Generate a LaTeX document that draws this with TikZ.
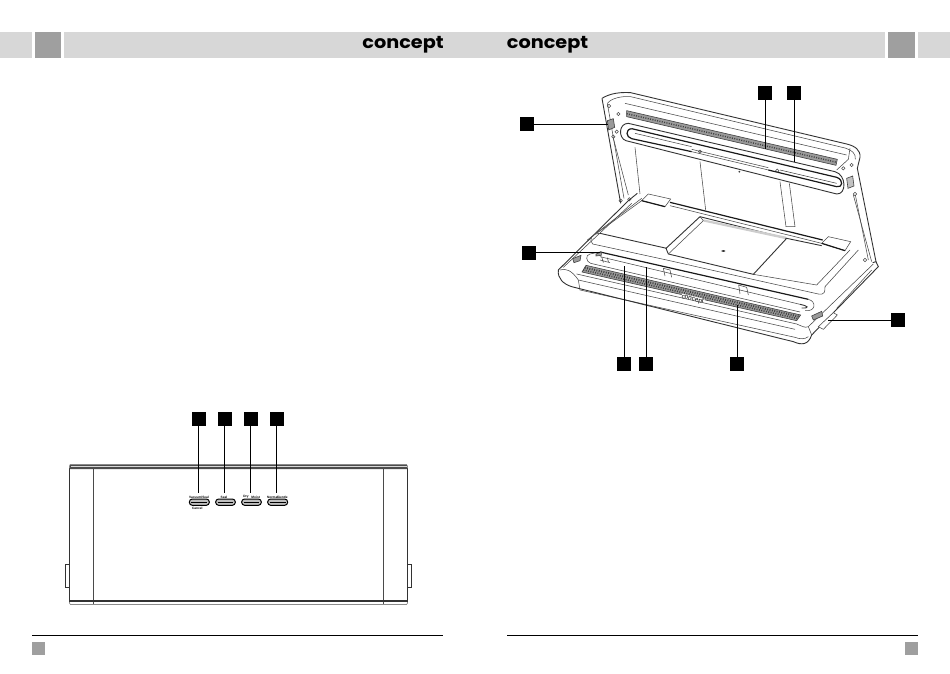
\documentclass[tikz,border=0pt]{standalone}
\usepackage{fontspec}
\setmainfont{Liberation Sans}
\newfontfamily\logofont{Poppins}
\definecolor{bannerg}{HTML}{D7D7D7}
\definecolor{bannerd}{HTML}{9F9F9F}
\definecolor{lineg}{HTML}{4A4A4A}
\definecolor{hatchg}{HTML}{9A9A9A}
\tikzset{
  banner/.style={fill=bannerg,draw=none},
  bannerdark/.style={fill=bannerd,draw=none},
  callout/.style={fill=black,draw=none,minimum width=14pt,minimum height=14pt,inner sep=0pt,outer sep=0pt},
  leader/.style={draw=black,line width=1pt},
  rulerline/.style={draw=black,line width=.8pt},
  logo/.style={inner sep=0pt,font=\logofont\bfseries\fontsize{17.5}{17.5}\selectfont,xscale=1.1},
  thin line/.style={draw=lineg,line width=.55pt},
  med line/.style={draw=black!80,line width=.9pt},
  heavy/.style={draw=black!90,line width=1.2pt},
  hatchband/.style={fill=hatchg,draw=black!75,line width=.6pt},
  texture/.style={draw=black!75,line width=1.4pt,dash pattern=on 1pt off 1.4pt},
  btnlabel/.style={inner sep=0pt,font=\bfseries\fontsize{3.2}{3.2}\selectfont},
  viewA/.style={shift={(500,70)},x=.33333pt,y=-.33333pt},
  viewB/.style={shift={(50,400)},x=.33333pt,y=-.33333pt},
  btn/.style={draw=black,line width=1pt,rounded corners=3pt,fill=black!25},
}
\begin{document}
\begin{tikzpicture}[x=1pt,y=-1pt]
\useasboundingbox (0,0) rectangle (950,674);
\fill[white] (0,0) rectangle (950,674);
% header
\fill[banner] (0,32) rectangle (32,58);
\fill[bannerdark] (35,32) rectangle (61,58);
\fill[banner] (64,32) rectangle (885,58);
\fill[bannerdark] (888,32) rectangle (915,58);
\fill[banner] (918,32) rectangle (950,58);
\node[logo] (logoL) at (403,44.5) {concept};
\node[logo] (logoR) at (547.5,44.5) {concept};
% footer
\draw[rulerline] (32,635) -- (443,635);
\draw[rulerline] (507,635) -- (918,635);
\fill[bannerd] (32,642) rectangle (45,655);
\fill[bannerd] (905,642) rectangle (918,655);

% ===== open appliance =====
\begin{scope}[viewA]
 % lid outer
 \draw[med line] (306,85) .. controls (330,70) and (360,66) .. (392,68) -- (1040,222) .. controls (1065,228) and (1082,240) .. (1080,262) -- (1072,295) -- (1128,575);
 \draw[med line] (306,85) -- (362,400);
 \draw[thin line] (322,100) .. controls (335,84) and (365,78) .. (392,80) -- (1035,234) .. controls (1055,240) and (1068,250) .. (1066,268);
 \draw[thin line] (322,100) -- (372,385);
 \draw[thin line] (375,100) -- (1040,255);
 \draw[thin line] (1050,235) -- (1045,268);
 \draw[thin line] (340,205) -- (385,375);
 \draw[thin line] (1060,375) -- (1115,575);
 \draw[thin line] (1066,375) -- (1105,570);
 \draw[thin line] (1045,268) -- (1010,300);
 % lid band
 \draw[hatchband] (380,122) -- (1012,268) -- (1008,286) -- (380,140) -- cycle;
 \draw[texture] (380,131) -- (1010,277);
 % lid gasket
 \draw[med line] (385,160) -- (1005,305) .. controls (1040,315) and (1040,374) .. (1010,372) -- (378,212) .. controls (355,205) and (355,160) .. (385,160);
 \draw[heavy] (395,176) -- (1010,322) .. controls (1032,330) and (1028,354) .. (1010,350) -- (805,300);
 \draw[heavy] (395,176) .. controls (375,178) and (378,202) .. (395,206) -- (575,245);
 \draw[thin line] (575,245) -- (805,300);
 \draw[thin line] (575,238) -- (805,293);
 \draw[thin line] (405,190) -- (575,230);
 \draw[thin line] (840,300) -- (1010,340);
 % small lid details
 \foreach \p in {(355,132),(340,200),(327,108),(350,185),(1055,285),(1030,295),(1065,372),(600,245),(832,302),(388,388),(362,392),(1095,570)}
   \draw[thin line] \p circle (5);
 \fill[black!75] (718,305) circle (3);
 \draw[hatchband] (322,152) -- (340,146) -- (344,172) -- (326,180) -- cycle;
 \draw[hatchband,fill=hatchg!60] (1040,325) -- (1058,318) -- (1062,348) -- (1044,355) -- cycle;
 % back panel
 \draw[thin line] (405,232) -- (420,372);
 \draw[thin line] (600,275) -- (617,420);
 \draw[thin line] (840,335) -- (858,470) -- (885,470) -- (868,340);
 % base hinge tabs
 \draw[thin line,fill=white] (425,392) -- (445,372) -- (512,387) -- (495,410) -- cycle;
 \draw[thin line,fill=white] (965,520) -- (985,500) -- (1052,515) -- (1035,542) -- cycle;
 \draw[heavy] (425,392) -- (495,410);
 \draw[heavy] (510,397) -- (968,510);
 \draw[heavy] (965,520) -- (1035,542);
 \draw[thin line] (510,407) -- (965,520);
 % base left diagonal
 \draw[med line] (175,600) -- (385,392) -- (412,370);
 \draw[thin line] (190,592) -- (395,400);
 \draw[thin line] (262,510) -- (425,385);
 % tray
 \draw[thin line] (425,392) -- (290,490);
 \draw[med line] (300,490) -- (500,535);
 \draw[thin line] (300,490) .. controls (275,490) and (265,510) .. (278,522) -- (500,570) -- (758,628) -- (955,672) .. controls (975,675) and (975,665) .. (975,650);
 \draw[med line] (600,440) -- (498,535) -- (505,552) -- (760,613) -- (860,505) -- cycle;
 \draw[thin line] (610,452) -- (860,505);
 \draw[thin line] (600,440) -- (610,452) -- (505,552);
 \fill[hatchg!50] (610,448) -- (858,500) -- (855,507) -- (612,455) -- cycle;
 \draw[med line] (860,505) -- (965,527);
 \draw[thin line] (760,613) -- (950,645) -- (1050,540);
 \draw[thin line] (975,650) -- (1075,540);
 \fill[black!80] (670,543) ellipse (6 and 2.5);
 % base gasket
 \draw[heavy] (300,546) -- (925,688);
 \draw[thin line] (925,688) .. controls (950,694) and (948,726) .. (915,722);
 \draw[thin line] (300,560) -- (900,703);
 \draw[med line] (900,703) .. controls (925,708) and (930,715) .. (905,714);
 \draw[thin line] (270,552) .. controls (255,555) and (258,575) .. (272,580) -- (900,726);
 \draw[thin line] (270,552) -- (300,546);
 \draw[thin line] (300,570) -- (330,578) (305,560) -- (310,578) (322,563) -- (326,578);
 \draw[hatchband] (288,552) -- (304,546) -- (304,556) -- (288,558) -- cycle;
 % slots
 \draw[thin line] (490,595) -- (495,618) (510,600) -- (515,622) (490,595) -- (510,600);
 \draw[thin line] (716,645) -- (720,672) (740,652) -- (745,675) (716,645) -- (740,652);
 % base hatch band
 \draw[hatchband] (258,586) -- (902,735) -- (890,752) -- (246,606) -- cycle;
 \draw[texture,line width=2pt] (254,593) -- (898,740);
 \draw[texture,line width=1.6pt] (250,600) -- (893,746);
 \node[btnlabel,rotate=-13,font=\fontsize{6.5}{6.5}\selectfont,fill=white,inner sep=.3pt] (frontlogo) at (578,688) {concept};
 % base front
 \draw[thin line] (230,612) -- (890,762) .. controls (905,768) and (915,775) .. (925,770);
 \draw[thin line] (235,630) -- (885,778);
 \draw[thin line] (180,600) .. controls (195,594) and (215,600) .. (235,630) -- (240,660) -- (885,802) .. controls (900,808) and (915,808) .. (925,800);
 \draw[med line] (175,600) .. controls (172,625) and (190,642) .. (215,650) -- (880,815) .. controls (905,826) and (925,825) .. (935,795) -- (1135,590) -- (1128,575) -- (1118,578);
 \draw[thin line] (925,770) -- (1120,582);
 \draw[thin line] (935,795) -- (925,770);
 \draw[thin line] (1010,715) -- (1115,600);
 % side buttons
 \draw[hatchband] (218,566) -- (243,556) -- (240,572) -- (222,578) -- cycle;
 \draw[hatchband] (935,738) -- (965,724) -- (968,738) -- (940,750) -- cycle;
 \draw[thin line,fill=white] (955,770) -- (1000,728) -- (1012,735) -- (970,778) -- cycle;
\end{scope}

% callouts for the open appliance
\node[callout] (a1) at (527,124.5) {};
\node[callout] (a2) at (529,252.5) {};
\node[callout] (a3) at (898,320) {};
\node[callout] (a4) at (765,93.5) {};
\node[callout] (a5) at (794,93.5) {};
\node[callout] (a6) at (624,364) {};
\node[callout] (a7) at (646,364) {};
\node[callout] (a8) at (737,364) {};
\coordinate (a1e) at (608,124.5);
\coordinate (a2e) at (600,252.5);
\coordinate (a3e) at (828,320);
\coordinate (a4e) at (765,149);
\coordinate (a5e) at (794,162);
\coordinate (a6e) at (624,266);
\coordinate (a7e) at (646,267);
\coordinate (a8e) at (737,305);
\foreach \n in {1,...,8} \draw[leader] (a\n) -- (a\n e);

% ===== front view =====
\begin{scope}[viewB]
 \draw[med line] (58,205) -- (58,603) (1073,205) -- (1073,603);
 \draw[thin line] (131,195) -- (131,612);
 \draw[thin line] (1000,195) -- (1000,612);
 \fill[black!70] (60,193) -- (1070,193) -- (1073,198) -- (1073,207) -- (58,207) -- (58,198) -- cycle;
 \fill[black!15] (62,198) rectangle (1070,202);
 \fill[black!80] (58,601) rectangle (1073,607);
 \draw[black!45,line width=.8pt] (60,612) -- (1071,612);
 \draw[thin line] (58,607) -- (60,612) (1073,607) -- (1071,612);
 \draw[med line] (58,493) -- (45,493) -- (45,563) -- (58,563);
 \draw[med line] (1073,493) -- (1085,493) -- (1085,563) -- (1073,563);
 \foreach \nm/\xa/\xb in {b1/418/478,b2/497/556,b3/575/634,b4/653/713}{
   \draw[btn] (\xa,297) rectangle (\xb,316);
   \draw[black,line width=.8pt] (\xa+6,306.5) -- (\xb-6,306.5);
   \coordinate (\nm) at ({(\xa+\xb)/2-2},278);
 }
 \node[btnlabel] (t1) at (447,291) {Vacuum/Seal};
 \node[btnlabel] (t1b) at (442,325) {Cancel};
 \node[btnlabel] (t2) at (522,291) {Seal};
 \node[btnlabel] (t3a) at (588,291) {Dry};
 \node[btnlabel] (t3b) at (617,291) {Moist};
 \node[btnlabel] (t4a) at (668,291) {Normal};
 \node[btnlabel] (t4b) at (698,291) {Gentle};
\end{scope}
\node[callout] (c1) at (198.7,419) {};
\node[callout] (c2) at (224.5,419) {};
\node[callout] (c3) at (250.5,419) {};
\node[callout] (c4) at (276.7,419) {};
\foreach \n in {1,2,3,4} \draw[leader] (c\n) -- (c\n |- b\n);
\end{tikzpicture}
\end{document}
